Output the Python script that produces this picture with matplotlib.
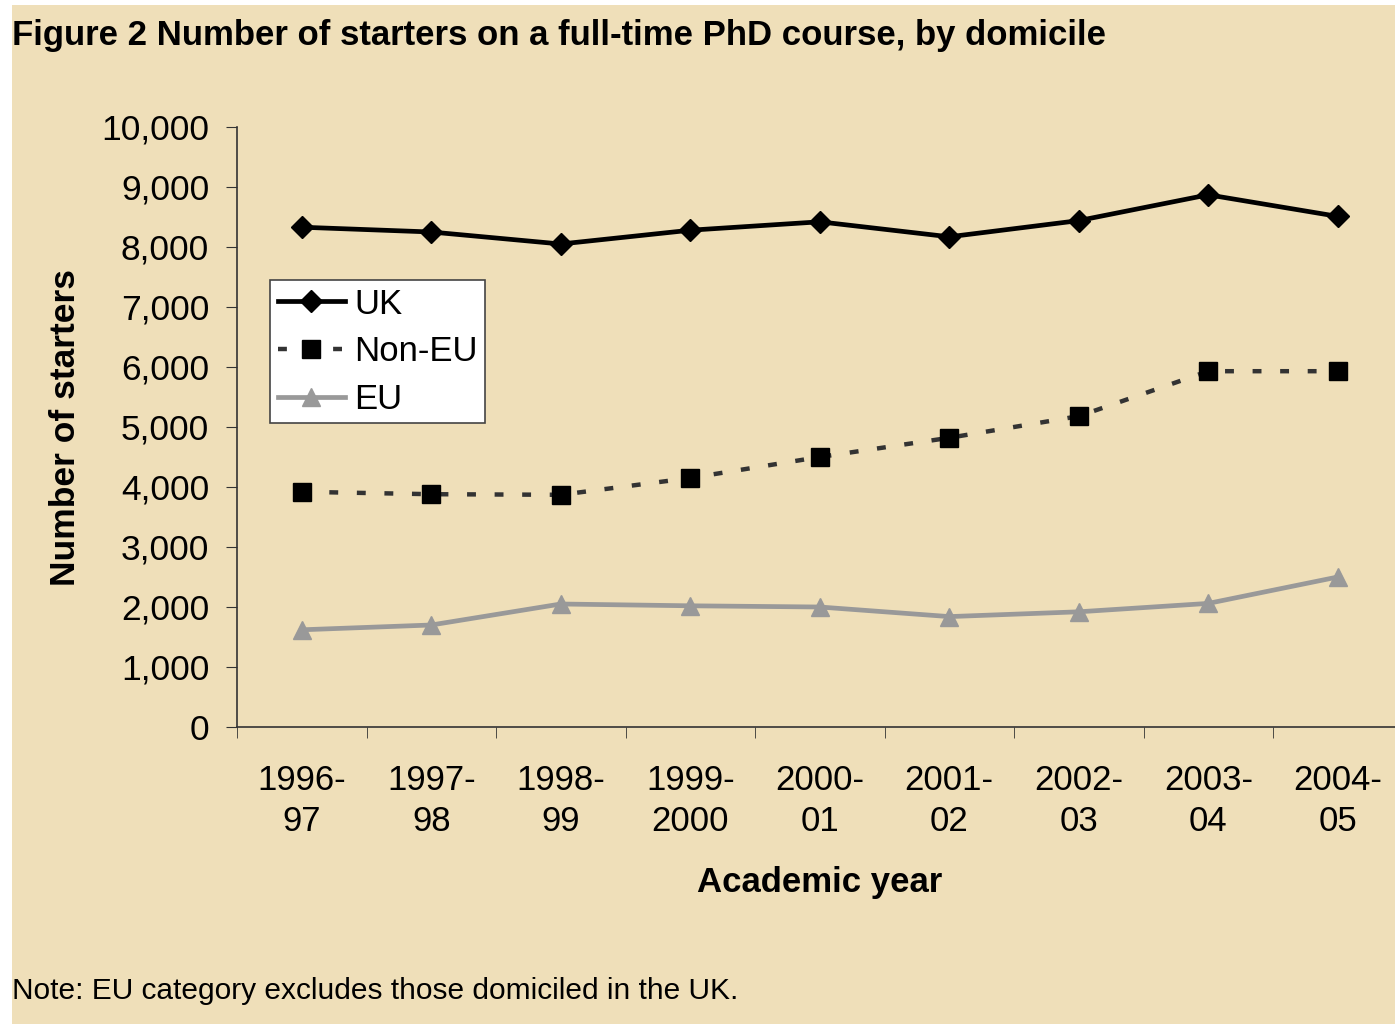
import matplotlib

matplotlib.use("Agg")
import matplotlib.pyplot as plt
from matplotlib.patches import Rectangle

years = ["1996-\n97", "1997-\n98", "1998-\n99", "1999-\n2000", "2000-\n01",
         "2001-\n02", "2002-\n03", "2003-\n04", "2004-\n05"]
uk = [8330, 8250, 8050, 8280, 8420, 8170, 8440, 8870, 8510]
non_eu = [3920, 3880, 3870, 4150, 4500, 4820, 5180, 5930, 5930]
eu = [1620, 1700, 2050, 2020, 2000, 1840, 1920, 2060, 2500]

plt.rcParams["font.family"] = ["Liberation Sans", "DejaVu Sans"]

fig = plt.figure(figsize=(13.95, 10.24), dpi=100, facecolor="white")
# parchment-coloured panel behind everything
fig.patches.append(Rectangle((12 / 1395, 0), 1, 1 - 5 / 1024, transform=fig.transFigure,
                             facecolor="#efdfb9", edgecolor="none", zorder=-10))

W = 9 * 129.5
ax = fig.add_axes([237 / 1395, 1 - 727 / 1024, W / 1395, 600 / 1024])
ax.set_zorder(2)
ax.patch.set_alpha(0)

x = list(range(len(years)))
ax.plot(x, uk, color="black", lw=3.4, marker="D", ms=11.5, label="UK", zorder=3)
ax.plot(x, non_eu, color="#333333", lw=3.2, ls=(0, (2.0, 4.2)), marker="s", ms=13,
        mfc="black", mec="black", label="Non-EU", zorder=3)
ax.plot(x, eu, color="#999999", lw=3.4, marker="^", ms=13, label="EU", zorder=3)

ax.set_xlim(-0.5, len(years) - 0.5)
ax.set_ylim(0, 10000)
ax.set_yticks(range(0, 10001, 1000))
ax.set_yticklabels([f"{v:,}" for v in range(0, 10001, 1000)], fontsize=25.5)
ax.set_xticks(x)
ax.set_xticklabels(years, fontsize=25, linespacing=1.3)
ax.set_xticks([i - 0.5 for i in range(len(years) + 1)], minor=True)
ax.tick_params(axis="x", which="major", length=0, pad=27)
ax.tick_params(axis="x", which="minor", length=8, direction="out", color="#333333")
ax.tick_params(axis="y", length=8, direction="out", color="#333333", pad=12)

for s in ["top", "right"]:
    ax.spines[s].set_visible(False)
for s in ["left", "bottom"]:
    ax.spines[s].set_color("#333333")
    ax.spines[s].set_linewidth(1.2)

ax.set_xlabel("Academic year", fontsize=25, fontweight="bold")
ax.xaxis.set_label_coords((820 - 237) / W, -(866 - 727) / 600)
ax.set_ylabel("Number of starters", fontsize=25.5, fontweight="bold")
ax.yaxis.set_label_coords(-(237 - 82) / W, (727 - 428) / 600)

leg = ax.legend(loc="upper left", bbox_to_anchor=((270 - 237) / W, (727 - 280) / 600),
                fontsize=25, frameon=True, fancybox=False, framealpha=1, edgecolor="#444444",
                handlelength=1.95, handletextpad=0.25, borderpad=0.22, labelspacing=0.42,
                borderaxespad=0)
leg.get_frame().set_linewidth(1.2)

fig.text(12 / 1395, 1 - 36 / 1024, "Figure 2 Number of starters on a full-time PhD course, by domicile",
         fontsize=25, fontweight="bold", ha="left", va="center")
fig.text(12 / 1395, 1 - 991 / 1024, "Note: EU category excludes those domiciled in the UK.",
         fontsize=21.5, ha="left", va="center")

fig.savefig("out.png", dpi=100, facecolor="white")
